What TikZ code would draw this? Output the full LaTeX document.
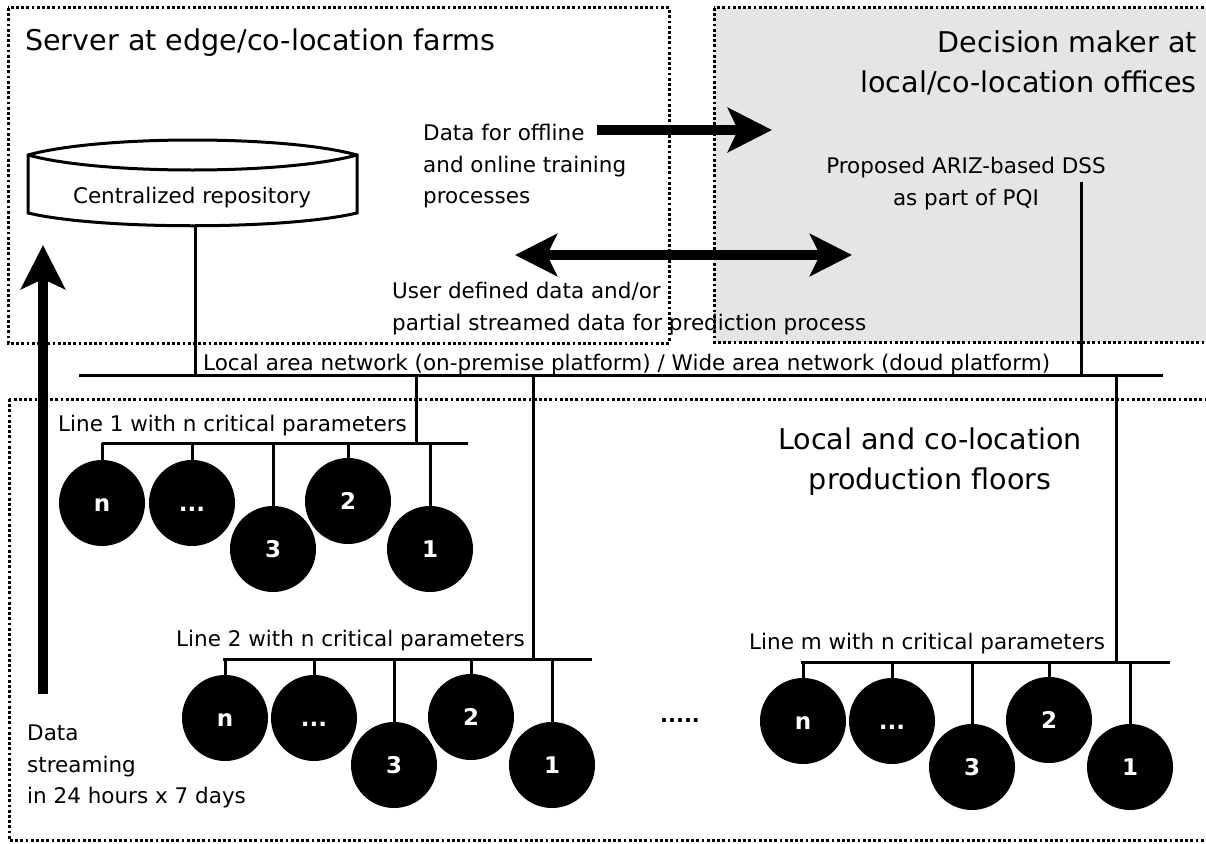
\documentclass[tikz,border=0pt]{standalone}
\usepackage{fontspec}
\setmainfont{DejaVu Sans}
\usetikzlibrary{arrows.meta}
\definecolor{panelgray}{gray}{0.9}
\newcommand\mydots{...}
\tikzset{
  zone/.style={line width=3pt, dash pattern=on 2.8pt off 2.4pt},
  wire/.style={line width=3pt},
  bigarrow/.style={line width=10.5pt, -{Stealth[length=44pt,width=44pt,inset=10pt]}},
  bigdarrow/.style={line width=10.5pt, {Stealth[length=42pt,width=42pt,inset=10pt]}-{Stealth[length=42pt,width=42pt,inset=10pt]}},
  pc/.style={circle, fill=black, minimum size=86pt, inner sep=0pt, text=white,
    font=\fontsize{23}{23}\selectfont\bfseries, text height=16.5pt, text depth=0pt},
  lbl/.style={inner sep=0pt, font=\fontsize{21.5}{31.5}\selectfont},
  ttl/.style={inner sep=0pt, font=\fontsize{28.6}{40}\selectfont},
}
\begin{document}
\begin{tikzpicture}[x=1pt,y=-1pt]
\useasboundingbox (0,0) rectangle (1206,843);
% zones
\fill[panelgray] (714,8) rectangle (1215,342);
\draw[zone] (8,8) rectangle (669,343);
\draw[zone] (714,8) rectangle (1215,342);
\draw[zone] (9,399) rectangle (1215,840);
% titles
\node[ttl, anchor=north west] (srvT) at (25,29) {Server at edge/co-location farms};
\node[ttl, anchor=north east, align=right] (dmT) at (1197,31) {Decision maker at\\local/co-location offices};
\node[ttl, anchor=north, align=center] (pfT) at (930,428) {Local and co-location\\production floors};
% repository cylinder
\draw[wire, fill=white] (28,155) .. controls (100,135) and (285,135) .. (357,155) -- (357,213) .. controls (285,230) and (100,230) .. (28,213) -- cycle;
\draw[wire] (28,155) .. controls (100,175) and (285,175) .. (357,155);
\node[lbl, anchor=base] (repo) at (192,203) {Centralized repository};
\coordinate (cylB) at (195,226);
% texts
\node[lbl, anchor=north west, align=left] (trn) at (423,124) {Data for offline\\and online training\\processes};
\node[lbl, anchor=north west, align=left] (usr) at (392,282) {User defined data and/or\\partial streamed data for prediction process};
\node[lbl, anchor=north, align=center] (dss) at (966,157) {Proposed ARIZ-based DSS\\as part of PQI};
\node[lbl, anchor=north west, align=left] (strm) at (27,725) {Data\\streaming\\in 24 hours x 7 days};
% arrows
\coordinate (trnA) at (597,130);
\coordinate (trnB) at (772,130);
\draw[bigarrow] (trnA) -- (trnB);
\coordinate (usrA) at (515,255);
\coordinate (usrB) at (852,255);
\draw[bigdarrow] (usrA) -- (usrB);
\coordinate (upS) at (43,694);
\coordinate (upT) at (43,245);
\draw[bigarrow] (upS) -- (upT);
% bus
\coordinate (busL) at (79,375);
\coordinate (busR) at (1163,375);
\draw[wire] (busL) -- (busR);
\node[lbl, anchor=base west] (lan) at (203,370) {Local area network (on-premise platform) / Wide area network (doud platform)};
\draw[wire] (cylB) -- (cylB |- busL);
\coordinate (dssT) at (1081,182);
\draw[wire] (dssT) -- (dssT |- busL);
% line 1
\node[lbl, anchor=north west] (l1t) at (58,415) {Line 1 with n critical parameters};
\coordinate (b1L) at (102,443);
\coordinate (b1R) at (468,443);
\coordinate (j1) at (416,375);
\draw[wire] (b1L) -- (b1R);
\draw[wire] (j1) -- (j1 |- b1L);
\foreach \nm/\x/\y/\t in {1n/102/503/n, 1d/192/503/\mydots, 13/273/549/3, 12/348/501/2, 11/430/549/1}{
  \node[pc] (c\nm) at (\x,\y) {\t};
  \draw[wire] (c\nm.north) -- (c\nm.north |- b1L);
}
% line 2
\node[lbl, anchor=north west] (l2t) at (176,630) {Line 2 with n critical parameters};
\coordinate (b2L) at (223,659);
\coordinate (b2R) at (592,659);
\coordinate (j2) at (533,375);
\draw[wire] (b2L) -- (b2R);
\draw[wire] (j2) -- (j2 |- b2L);
\foreach \nm/\x/\y/\t in {2n/225/718/n, 2d/314/718/\mydots, 23/394/765/3, 22/471/717/2, 21/552/765/1}{
  \node[pc] (c\nm) at (\x,\y) {\t};
  \draw[wire] (c\nm.north) -- (c\nm.north |- b2L);
}
\node[font=\fontsize{21}{21}\selectfont\bfseries, anchor=base, inner sep=0pt] (gap) at (680,722) {.....};
% line m
\node[lbl, anchor=north west] (lmt) at (749,633) {Line m with n critical parameters};
\coordinate (bmL) at (801,662);
\coordinate (bmR) at (1170,662);
\coordinate (jm) at (1116,375);
\draw[wire] (bmL) -- (bmR);
\draw[wire] (jm) -- (jm |- bmL);
\foreach \nm/\x/\y/\t in {mn/803/721/n, md/892/721/\mydots, m3/972/767/3, m2/1049/720/2, m1/1130/767/1}{
  \node[pc] (c\nm) at (\x,\y) {\t};
  \draw[wire] (c\nm.north) -- (c\nm.north |- bmL);
}
\end{tikzpicture}
\end{document}
